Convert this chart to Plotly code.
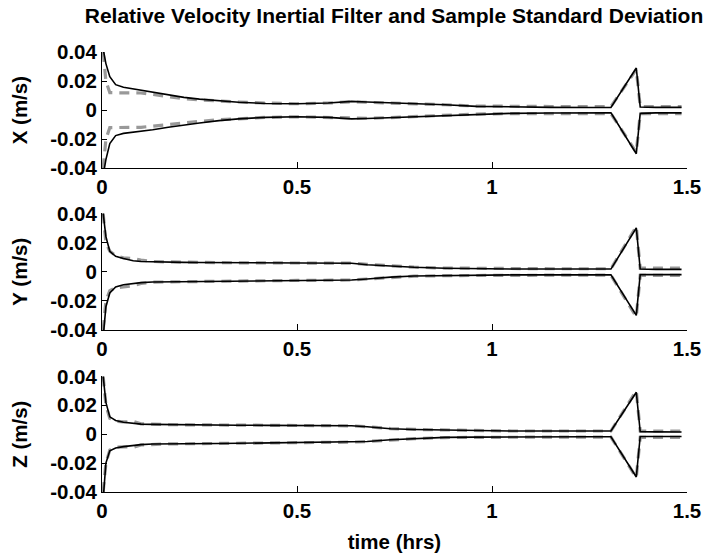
import plotly.graph_objects as go

# ---------------- data ----------------
t_hrs = [0.003, 0.01, 0.02, 0.035, 0.055, 0.08, 0.1, 0.13, 0.17, 0.21, 0.25, 0.3, 0.35, 0.42,
         0.5, 0.58, 0.64, 0.68, 0.74, 0.8, 0.88, 0.96, 1.05, 1.15, 1.25, 1.305, 1.37, 1.38, 1.42, 1.486]

x_filt_up = [0.042, 0.032, 0.023, 0.0175, 0.0157, 0.0146, 0.0138, 0.0124, 0.0104, 0.0088, 0.0076, 0.0064, 0.0054, 0.0046,
             0.0044, 0.0049, 0.0060, 0.0056, 0.0051, 0.0046, 0.0037, 0.0026, 0.0021, 0.0019, 0.0018, 0.0018, 0.029, 0.0022, 0.0019, 0.0019]
x_filt_lo = [-0.045, -0.034, -0.023, -0.0175, -0.016, -0.0152, -0.0146, -0.0135, -0.0118, -0.0102, -0.0088, -0.0072, -0.006, -0.005,
             -0.0046, -0.005, -0.0060, -0.0058, -0.0052, -0.0045, -0.0036, -0.0026, -0.0022, -0.002, -0.0019, -0.0019, -0.030, -0.0022, -0.0019, -0.0019]
x_samp_up = [0.040, 0.020, 0.012, 0.012, 0.012, 0.012, 0.0118, 0.0108, 0.0092, 0.0078, 0.007, 0.0062, 0.0056, 0.0049,
             0.0044, 0.0049, 0.0057, 0.0054, 0.005, 0.0045, 0.0037, 0.0028, 0.0025, 0.0025, 0.0025, 0.0025, 0.028, 0.0025, 0.0025, 0.0025]
x_samp_lo = [-0.040, -0.020, -0.012, -0.012, -0.012, -0.012, -0.0118, -0.011, -0.0098, -0.0087, -0.0078, -0.0066, -0.0058, -0.005,
             -0.0046, -0.005, -0.0058, -0.0056, -0.0051, -0.0045, -0.0036, -0.0027, -0.0024, -0.0024, -0.0024, -0.0024, -0.029, -0.0025, -0.0025, -0.0025]

y_filt_up = [0.040, 0.024, 0.014, 0.0105, 0.009, 0.0075, 0.007, 0.0067, 0.0066, 0.0064, 0.0063, 0.0062, 0.0061, 0.0061,
             0.006, 0.006, 0.0058, 0.0048, 0.0037, 0.003, 0.0024, 0.002, 0.0018, 0.0018, 0.0018, 0.0018, 0.030, 0.0018, 0.0016, 0.0016]
y_filt_lo = [-0.045, -0.024, -0.0146, -0.0105, -0.009, -0.008, -0.0075, -0.0071, -0.007, -0.0068, -0.0066, -0.0064, -0.0063, -0.0062,
             -0.006, -0.0058, -0.0057, -0.005, -0.0037, -0.003, -0.0026, -0.0024, -0.0022, -0.0022, -0.0022, -0.0022, -0.030, -0.002, -0.002, -0.002]
y_samp_up = [0.040, 0.020, 0.014, 0.011, 0.0095, 0.009, 0.008, 0.007, 0.0067, 0.0064, 0.0063, 0.0062, 0.0061, 0.0061,
             0.006, 0.006, 0.0058, 0.005, 0.0038, 0.0031, 0.0025, 0.0022, 0.002, 0.002, 0.002, 0.002, 0.031, 0.0025, 0.0025, 0.0025]
y_samp_lo = [-0.040, -0.020, -0.013, -0.011, -0.0105, -0.0095, -0.008, -0.0072, -0.007, -0.0068, -0.0066, -0.0064, -0.0063, -0.0062,
             -0.006, -0.0058, -0.0057, -0.005, -0.0038, -0.0031, -0.0027, -0.0025, -0.0024, -0.0024, -0.0024, -0.0024, -0.031, -0.0025, -0.0025, -0.0025]

z_filt_up = [0.040, 0.022, 0.012, 0.0095, 0.0083, 0.0075, 0.007, 0.0068, 0.0066, 0.0065, 0.0064, 0.0063, 0.0062, 0.0061,
             0.006, 0.006, 0.0058, 0.0052, 0.0038, 0.0032, 0.0028, 0.0025, 0.0022, 0.0022, 0.0022, 0.0022, 0.029, 0.0018, 0.0016, 0.0015]
z_filt_lo = [-0.045, -0.020, -0.0115, -0.0095, -0.0086, -0.0076, -0.0072, -0.0068, -0.0066, -0.0066, -0.0065, -0.0064, -0.0063, -0.0061,
             -0.006, -0.0058, -0.0055, -0.005, -0.0038, -0.003, -0.0022, -0.002, -0.0018, -0.0018, -0.0018, -0.0018, -0.0296, -0.0016, -0.0016, -0.0016]
z_samp_up = [0.040, 0.020, 0.011, 0.009, 0.0085, 0.0088, 0.0072, 0.0068, 0.0066, 0.0065, 0.0064, 0.0063, 0.0062, 0.0061,
             0.006, 0.006, 0.0058, 0.0052, 0.0039, 0.0033, 0.0028, 0.0025, 0.0022, 0.0022, 0.0022, 0.0022, 0.030, 0.0022, 0.0022, 0.0022]
z_samp_lo = [-0.040, -0.020, -0.011, -0.009, -0.0087, -0.009, -0.0074, -0.007, -0.0067, -0.0066, -0.0065, -0.0064, -0.0063, -0.0061,
             -0.006, -0.0058, -0.0055, -0.005, -0.0039, -0.0031, -0.0023, -0.0021, -0.002, -0.002, -0.002, -0.002, -0.030, -0.0022, -0.0022, -0.0022]

x_tickvals = [0, 0.5, 1, 1.5]
x_ticktext = ["0", "0.5", "1", "1.5"]
y_tickvals = [-0.04, -0.02, 0, 0.02, 0.04]
y_ticktext = ["-0.04", "-0.02", "0", "0.02", "0.04"]

axis_titles = ["X (m/s)", "Y (m/s)", "Z (m/s)"]
title_text = "Relative Velocity Inertial Filter and Sample Standard Deviation"
xlabel_text = "time (hrs)"

panels = [
    (x_filt_up, x_filt_lo, x_samp_up, x_samp_lo),
    (y_filt_up, y_filt_lo, y_samp_up, y_samp_lo),
    (z_filt_up, z_filt_lo, z_samp_up, z_samp_lo),
]

# ---------------- figure ----------------
W, H = 714, 558
FONT = "Liberation Sans, Arial, Helvetica, sans-serif"
fig = go.Figure()

# pixel layout of plot areas (top, bottom)
panel_px = [(41.7, 163.0), (210.0, 331.7), (380.0, 500.7)]

for i, (fu, fl, su, sl) in enumerate(panels):
    xa = "x" if i == 0 else f"x{i+1}"
    ya = "y" if i == 0 else f"y{i+1}"
    for s in (su, sl):
        fig.add_trace(go.Scatter(x=t_hrs, y=s, mode="lines", xaxis=xa, yaxis=ya,
                                 line=dict(color="#999999", width=3.2, dash="10px,7px"),
                                 showlegend=False, hoverinfo="skip"))
    for f in (fu, fl):
        fig.add_trace(go.Scatter(x=t_hrs, y=f, mode="lines", xaxis=xa, yaxis=ya,
                                 line=dict(color="black", width=1.6),
                                 showlegend=False, hoverinfo="skip"))

tickfont = dict(family=FONT, size=20.5, color="black", weight="bold")
labfont = dict(family=FONT, size=20.5, color="black", weight="bold")
layout = dict(
    width=W, height=H,
    margin=dict(l=102, r=27, t=0, b=0),
    paper_bgcolor="white", plot_bgcolor="white",
    showlegend=False,
    title=dict(text=title_text, x=394 / W, xanchor="center", y=1 - 16 / H, yanchor="middle",
               yref="container", xref="container",
               font=dict(family=FONT, size=21, color="black", weight="bold")),
)
for i, (top, bot) in enumerate(panel_px):
    xk = "xaxis" if i == 0 else f"xaxis{i+1}"
    yk = "yaxis" if i == 0 else f"yaxis{i+1}"
    ya = "y" if i == 0 else f"y{i+1}"
    xa = "x" if i == 0 else f"x{i+1}"
    layout[xk] = dict(
        domain=[0, 1], anchor=ya, range=[0, 1.5],
        tickvals=x_tickvals, ticktext=x_ticktext, ticks="inside", ticklen=6, tickcolor="black",
        showline=True, linecolor="black", linewidth=1, showgrid=False, zeroline=False,
        tickfont=tickfont, mirror=False,
    )
    layout[yk] = dict(
        domain=[1 - bot / H, 1 - top / H], anchor=xa, range=[-0.04, 0.04],
        tickvals=y_tickvals, ticktext=y_ticktext, ticks="inside", ticklen=5, tickcolor="black",
        showline=True, linecolor="black", linewidth=1, showgrid=False, zeroline=False,
        tickfont=tickfont,
        title=dict(text=axis_titles[i], font=labfont, standoff=16),
    )
layout["xaxis3"]["title"] = dict(text=xlabel_text, font=labfont, standoff=13)
fig.update_layout(**layout)
fig.write_html("out.html")
